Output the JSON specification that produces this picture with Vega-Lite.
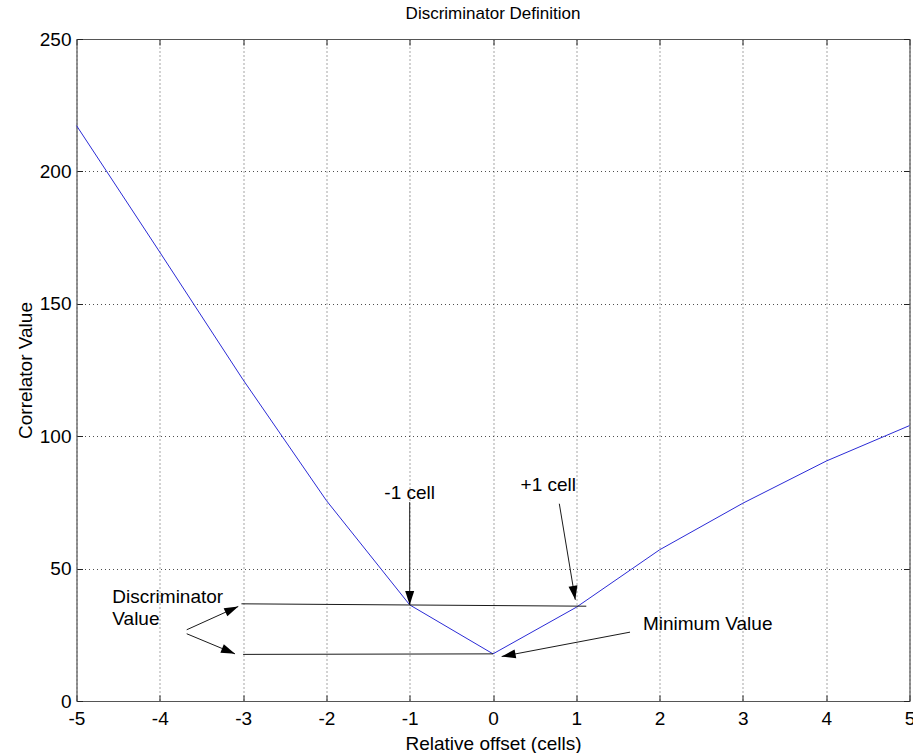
{
  "$schema": "https://vega.github.io/schema/vega-lite/v6.json",
  "autosize": "none",
  "width": 833,
  "height": 662,
  "padding": {"left": 76.5, "top": 39, "right": 3.5, "bottom": 52},
  "background": "white",
  "title": {"text": "Discriminator Definition", "font": "Liberation Sans", "fontSize": 17, "fontWeight": "normal", "color": "black", "offset": 7},
  "datasets": {
    "curve": [
      {"offset": -5, "value": 217.3},
      {"offset": -4, "value": 169.5},
      {"offset": -3, "value": 121.3},
      {"offset": -2, "value": 75.7},
      {"offset": -1, "value": 36.3},
      {"offset": 0, "value": 17.8},
      {"offset": 1, "value": 35.4},
      {"offset": 2, "value": 57.1},
      {"offset": 3, "value": 74.7},
      {"offset": 4, "value": 90.6},
      {"offset": 5, "value": 104.0}
    ],
    "segs": [
      {"x": -3.02, "y": 36.7, "x2": 1.12, "y2": 35.8},
      {"x": -3.0, "y": 17.6, "x2": 0.0, "y2": 17.8},
      {"x": -1.0, "y": 75.1, "x2": -1.0, "y2": 36.3},
      {"x": 0.796, "y": 74.5, "x2": 0.988, "y2": 38.2},
      {"x": 1.645, "y": 26.0, "x2": 0.104, "y2": 16.8},
      {"x": -3.677, "y": 26.9, "x2": -3.058, "y2": 35.7},
      {"x": -3.677, "y": 25.4, "x2": -3.097, "y2": 17.8}
    ],
    "heads": [
      {"x": -1.0, "y": 36.3, "angle": 180},
      {"x": 0.988, "y": 38.2, "angle": 170.5},
      {"x": 0.104, "y": 16.8, "angle": 259.3},
      {"x": -3.058, "y": 35.7, "angle": 65.7},
      {"x": -3.097, "y": 17.8, "angle": 112.5}
    ],
    "labelsCenter": [
      {"x": -1.0, "y": 78.7, "text": "-1 cell"},
      {"x": 0.664, "y": 81.7, "text": "+1 cell"}
    ],
    "labelsLeft": [
      {"x": 1.8, "y": 29.2, "text": "Minimum Value"},
      {"x": -4.57, "y": 39.2, "text": "Discriminator"},
      {"x": -4.57, "y": 30.8, "text": "Value"}
    ]
  },
  "resolve": {"axis": {"x": "independent", "y": "independent"}},
  "layer": [
    {
      "data": {"name": "curve"},
      "mark": {"type": "line", "color": "#2b2bd6", "strokeWidth": 1},
      "encoding": {
        "x": {"field": "offset", "type": "quantitative",
          "scale": {"domain": [-5, 5], "nice": false, "zero": false},
          "axis": {"orient": "bottom", "title": "Relative offset (cells)", "values": [-5,-4,-3,-2,-1,0,1,2,3,4,5], "grid": true, "labelPadding": 14, "titleY": 48, "titleBaseline": "alphabetic", "labelExpr": "toString(datum.value)"}},
        "y": {"field": "value", "type": "quantitative",
          "scale": {"domain": [0, 250], "nice": false, "zero": false},
          "axis": {"orient": "left", "title": "Correlator Value", "values": [0,50,100,150,200,250], "grid": true, "labelPadding": 11.5, "titleX": -45, "titleBaseline": "alphabetic", "labelExpr": "toString(datum.value)"}}
      }
    },
    {
      "data": {"name": "segs"},
      "mark": {"type": "rule", "color": "#1a1a1a", "strokeWidth": 1},
      "encoding": {
        "x": {"field": "x", "type": "quantitative",
          "scale": {"domain": [-5, 5], "nice": false, "zero": false},
          "axis": {"orient": "top", "title": null, "labels": false, "grid": false, "values": [-5,-4,-3,-2,-1,0,1,2,3,4,5]}},
        "y": {"field": "y", "type": "quantitative",
          "scale": {"domain": [0, 250], "nice": false, "zero": false},
          "axis": {"orient": "right", "title": null, "labels": false, "grid": false, "values": [0,50,100,150,200,250]}},
        "x2": {"field": "x2"},
        "y2": {"field": "y2"}
      }
    },
    {
      "data": {"name": "heads"},
      "mark": {"type": "point", "shape": "M0,0L-0.9,2.8L0.9,2.8Z", "filled": true, "color": "black", "size": 100, "opacity": 1},
      "encoding": {
        "x": {"field": "x", "type": "quantitative", "scale": {"domain": [-5, 5], "nice": false, "zero": false}, "axis": null},
        "y": {"field": "y", "type": "quantitative", "scale": {"domain": [0, 250], "nice": false, "zero": false}, "axis": null},
        "angle": {"field": "angle", "type": "quantitative", "scale": null}
      }
    },
    {
      "data": {"name": "labelsCenter"},
      "mark": {"type": "text", "align": "center", "baseline": "middle", "font": "Liberation Sans", "fontSize": 19, "color": "black"},
      "encoding": {
        "x": {"field": "x", "type": "quantitative", "scale": {"domain": [-5, 5], "nice": false, "zero": false}, "axis": null},
        "y": {"field": "y", "type": "quantitative", "scale": {"domain": [0, 250], "nice": false, "zero": false}, "axis": null},
        "text": {"field": "text"}
      }
    },
    {
      "data": {"name": "labelsLeft"},
      "mark": {"type": "text", "align": "left", "baseline": "middle", "font": "Liberation Sans", "fontSize": 19, "color": "black"},
      "encoding": {
        "x": {"field": "x", "type": "quantitative", "scale": {"domain": [-5, 5], "nice": false, "zero": false}, "axis": null},
        "y": {"field": "y", "type": "quantitative", "scale": {"domain": [0, 250], "nice": false, "zero": false}, "axis": null},
        "text": {"field": "text"}
      }
    }
  ],
  "config": {
    "view": {"stroke": null},
    "axis": {
      "labelFont": "Liberation Sans", "labelFontSize": 19, "labelColor": "black",
      "titleFont": "Liberation Sans", "titleFontSize": 19, "titleFontWeight": "normal", "titleColor": "black",
      "domainColor": "#555555", "domainWidth": 1.2,
      "tickColor": "#222222", "tickSize": -6, "tickWidth": 1,
      "gridColor": "#222222", "gridDash": [1, 3], "gridOpacity": 0.8, "gridWidth": 1,
      "labelFlush": false, "labelOverlap": false, "labelBound": false
    }
  }
}
